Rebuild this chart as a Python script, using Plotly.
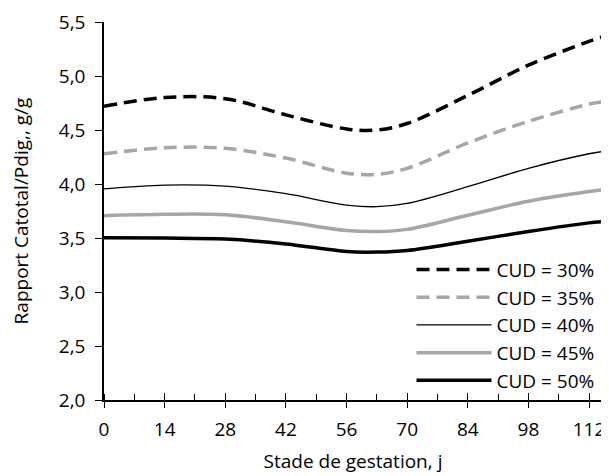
import plotly.graph_objects as go

days = [0, 14, 28, 42, 56, 63, 70, 84, 98, 112, 115]
cud30 = [4.72, 4.80, 4.79, 4.64, 4.51, 4.50, 4.56, 4.82, 5.10, 5.32, 5.36]
cud35 = [4.28, 4.335, 4.33, 4.24, 4.10, 4.09, 4.145, 4.38, 4.58, 4.74, 4.76]
cud40 = [3.955, 3.99, 3.98, 3.91, 3.805, 3.79, 3.82, 3.975, 4.145, 4.28, 4.30]
cud45 = [3.707, 3.72, 3.715, 3.65, 3.57, 3.56, 3.58, 3.71, 3.84, 3.93, 3.945]
cud50 = [3.503, 3.50, 3.49, 3.445, 3.375, 3.37, 3.385, 3.47, 3.56, 3.64, 3.65]
names = ["CUD = 30%", "CUD = 35%", "CUD = 40%", "CUD = 45%", "CUD = 50%"]
xticks = [0, 14, 28, 42, 56, 70, 84, 98, 112]

series = [cud30, cud35, cud40, cud45, cud50]
styles = [
    dict(color="black", width=3.5, dash="13px,7px"),
    dict(color="#A6A6A6", width=3.5, dash="13px,7px"),
    dict(color="black", width=1.3),
    dict(color="#A6A6A6", width=3.5),
    dict(color="black", width=3.5),
]

font = "Open Sans"
fs = 19
fig = go.Figure()
for name, ys, st in zip(names, series, styles):
    fig.add_trace(go.Scatter(x=days, y=ys, mode="lines", name=name,
                             line=dict(shape="spline", smoothing=1.0, **st)))

# the page body adds an 8px offset, so the figure is sized to fit the window
fig.update_layout(
    width=601, height=468,
    margin=dict(l=96, r=7, t=14, b=76),
    plot_bgcolor="white", paper_bgcolor="white",
    separators=", ",
    font=dict(family=font, size=fs, color="black"),
    legend=dict(x=0.995, y=0.395, xanchor="right", yanchor="top",
                bgcolor="rgba(0,0,0,0)", font=dict(size=fs, family=font),
                itemwidth=75, tracegroupgap=0, traceorder="normal"),
    xaxis=dict(range=[0, 115], tickvals=xticks, ticks="outside", ticklen=6,
               tickwidth=1.3, tickcolor="black", automargin=False,
               showline=True, linecolor="black", linewidth=1.5,
               showgrid=False, zeroline=False, ticklabelstandoff=5,
               minor=dict(ticks="inside", dtick=7, tick0=0, ticklen=6,
                          tickwidth=1.3, tickcolor="black", showgrid=False),
               title=dict(text="Stade de gestation, j", font=dict(size=fs), standoff=14),
               tickfont=dict(size=fs)),
    xaxis2=dict(range=[0, 115], tickvals=xticks, ticks="inside", ticklen=7,
                tickwidth=1.3, tickcolor="black", showticklabels=False,
                overlaying="x", anchor="y", side="bottom", showgrid=False,
                zeroline=False, showline=False, automargin=False),
    yaxis=dict(range=[2.0, 5.5], dtick=0.5, tick0=2.0, tickformat=".1f",
               ticks="outside", ticklen=7, tickwidth=1.3, tickcolor="black",
               showline=True, linecolor="black", linewidth=1.5, automargin=False,
               showgrid=False, zeroline=False, ticklabelstandoff=6,
               title=dict(text="Rapport Catotal/Pdig,, g/g", font=dict(size=fs), standoff=28),
               tickfont=dict(size=fs)),
)
fig.add_trace(go.Scatter(x=[0], y=[None], xaxis="x2", showlegend=False,
                         hoverinfo="skip"))
fig.write_html("out.html")
